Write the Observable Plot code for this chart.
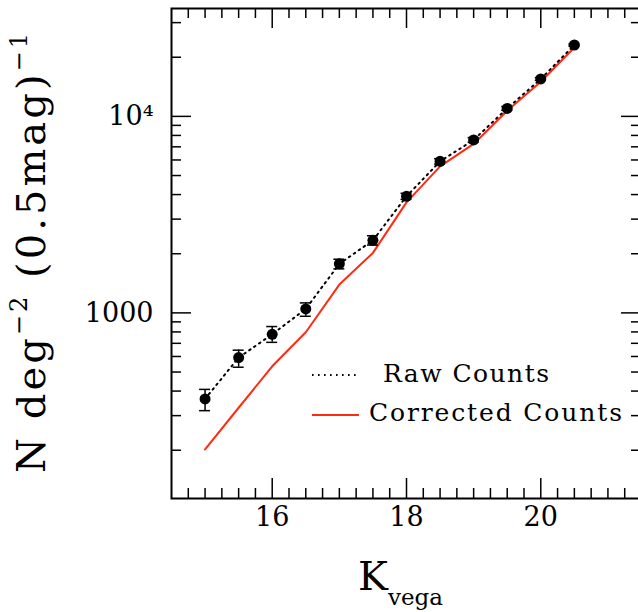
<!DOCTYPE html>
<html>
<head>
<meta charset="utf-8">
<script src="https://cdn.jsdelivr.net/npm/d3@7"></script>
<script src="https://cdn.jsdelivr.net/npm/@observablehq/plot@0.6"></script>
<style>
  html, body { margin: 0; padding: 0; background: #fff; overflow: hidden; }
  #chart svg { display: block; font-family: "DejaVu Serif", serif; }
</style>
</head>
<body>
<div id="chart"></div>
<script>
// ---- data ----
const mags        = [15, 15.5, 16, 16.5, 17, 17.5, 18, 18.5, 19, 19.5, 20, 20.5];
const rawCounts   = [365, 592, 778, 1048, 1776, 2340, 3918, 5903, 7587, 10982, 15500, 23080];
const rawLow      = [318, 529, 708, 961, 1675, 2213, 3780, 5720, 7380, 10750, 15250, 22800];
const rawHigh     = [408, 646, 852, 1124, 1875, 2470, 4060, 6090, 7800, 11220, 15750, 23360];
const corrCounts  = [202, 329, 535, 797, 1393, 2019, 3650, 5570, 7240, 10690, 15000, 22430];

const xMajorTicks = [16, 18, 20];
const xTickLabels = ["16", "18", "20"];
const xMinorTicks = [14.75, 15, 15.25, 15.5, 15.75, 16.25, 16.5, 16.75, 17, 17.25, 17.5, 17.75,
                     18.25, 18.5, 18.75, 19, 19.25, 19.5, 19.75, 20.25, 20.5, 20.75, 21, 21.25];
const yMajorTicks = [1000, 10000];
const yTickLabels = ["1000", "10\u2074"];
const yMinorTicks = [200, 300, 400, 500, 600, 700, 800, 900,
                     2000, 3000, 4000, 5000, 6000, 7000, 8000, 9000, 20000, 30000];
const seriesNames = ["Raw Counts", "Corrected Counts"];

const raw  = mags.map((m, i) => ({x: m, y: rawCounts[i], lo: rawLow[i], hi: rawHigh[i]}));
const corr = mags.map((m, i) => ({x: m, y: corrCounts[i]}));
const xLab = xMajorTicks.map((v, i) => ({v, t: xTickLabels[i]}));
const yLab = yMajorTicks.map((v, i) => ({v, t: yTickLabels[i]}));

const W = 638, H = 612;
const mL = 171, mR = -3, mT = 8, mB = 114;
const pw = W - mL - mR, ph = H - mT - mB;
const RED = "#ff2a12";
const DOTS = "1.6 4.4";

const plot = Plot.plot({
  width: W, height: H,
  marginLeft: mL, marginRight: mR, marginTop: mT, marginBottom: mB,
  style: {fontFamily: "DejaVu Serif, serif", background: "white", overflow: "visible"},
  x: {domain: [14.5, 21.5], range: [mL, W - mR], axis: null},
  y: {type: "log", domain: [113.6, 35400], range: [H - mB, mT], axis: null},
  marks: [
    // ticks (inward, all four sides)
    Plot.tickX(xMajorTicks, {x: d => d, insetTop: ph - 20, strokeWidth: 1.5}),
    Plot.tickX(xMinorTicks, {x: d => d, insetTop: ph - 10, strokeWidth: 1.5}),
    Plot.tickX(xMajorTicks, {x: d => d, insetBottom: ph - 20, strokeWidth: 1.5}),
    Plot.tickX(xMinorTicks, {x: d => d, insetBottom: ph - 10, strokeWidth: 1.5}),
    Plot.tickY(yMajorTicks, {y: d => d, insetRight: pw - 20, strokeWidth: 1.5}),
    Plot.tickY(yMinorTicks, {y: d => d, insetRight: pw - 10, strokeWidth: 1.5}),
    Plot.tickY(yMajorTicks, {y: d => d, insetLeft: pw - 20, strokeWidth: 1.5}),
    Plot.tickY(yMinorTicks, {y: d => d, insetLeft: pw - 10, strokeWidth: 1.5}),
    // tick labels
    Plot.text(xLab, {x: "v", text: "t", frameAnchor: "bottom", dy: 27, fontSize: 27, fill: "black"}),
    Plot.text(yLab, {y: "v", text: "t", frameAnchor: "left", textAnchor: "end", dx: -18, fontSize: 27, fill: "black"}),
    // corrected counts
    Plot.line(corr, {x: "x", y: "y", stroke: RED, strokeWidth: 2}),
    // raw counts: dotted line, error bars, dots
    Plot.line(raw, {x: "x", y: "y", stroke: "black", strokeWidth: 2, strokeDasharray: DOTS}),
    Plot.ruleX(raw, {x: "x", y1: "lo", y2: "hi", stroke: "black", strokeWidth: 1.5}),
    Plot.ruleY(raw, {y: "lo", x1: "x", x2: "x", insetLeft: -5.5, insetRight: -5.5, stroke: "black", strokeWidth: 1.5}),
    Plot.ruleY(raw, {y: "hi", x1: "x", x2: "x", insetLeft: -5.5, insetRight: -5.5, stroke: "black", strokeWidth: 1.5}),
    Plot.dot(raw, {x: "x", y: "y", r: 5.5, fill: "black"}),
    Plot.frame({stroke: "black", strokeWidth: 2})
  ]
});

document.getElementById("chart").appendChild(plot);

// ---- legend & axis titles ----
const svg = d3.select(plot);
const g = svg.append("g")
  .attr("font-family", "DejaVu Serif, serif")
  .attr("fill", "black")
  .attr("text-anchor", "start");

// legend
g.append("line").attr("x1", 312).attr("x2", 357).attr("y1", 375).attr("y2", 375)
  .attr("stroke", "black").attr("stroke-width", 2).attr("stroke-dasharray", DOTS);
g.append("text").attr("x", 383).attr("y", 382).attr("font-size", 25).attr("text-anchor", "start")
  .attr("textLength", 166).attr("lengthAdjust", "spacing").text(seriesNames[0]);
g.append("line").attr("x1", 312).attr("x2", 359).attr("y1", 415).attr("y2", 415)
  .attr("stroke", RED).attr("stroke-width", 2);
g.append("text").attr("x", 369).attr("y", 421).attr("font-size", 25).attr("text-anchor", "start")
  .attr("textLength", 253).attr("lengthAdjust", "spacing").text(seriesNames[1]);

// x title: K_vega
const xt = g.append("text").attr("x", 358).attr("y", 590).attr("font-size", 40).attr("text-anchor", "start");
xt.append("tspan").text("K");
xt.append("tspan").attr("font-size", 23).attr("dy", 15).attr("dx", 0).text("vega");

// y title: N deg^-2 (0.5mag)^-1
const yt = g.append("text")
  .attr("transform", "translate(45,473) rotate(-90)")
  .attr("font-size", 40).attr("text-anchor", "start")
  .attr("textLength", 440).attr("lengthAdjust", "spacing");
yt.append("tspan").text("N deg");
yt.append("tspan").attr("font-size", 24).attr("dy", -18).text("\u22122");
yt.append("tspan").attr("dy", 18).text(" (0.5mag)");
yt.append("tspan").attr("font-size", 24).attr("dy", -18).text("\u22121");
</script>
</body>
</html>
